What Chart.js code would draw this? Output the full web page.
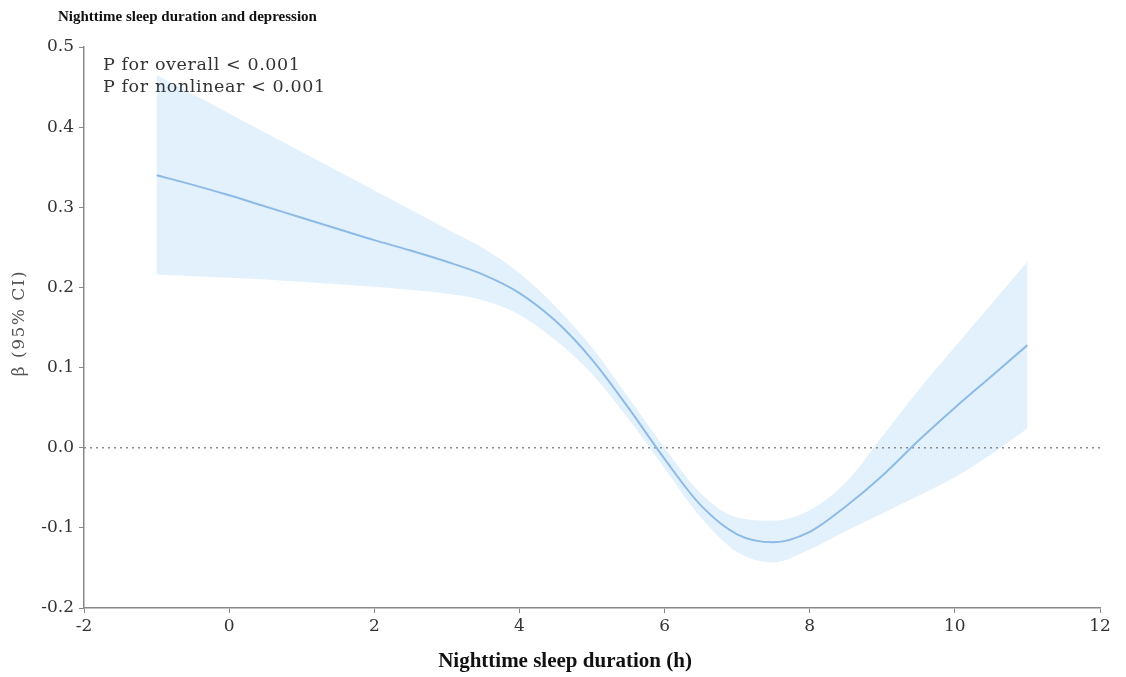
<!DOCTYPE html>
<html>
<head>
<meta charset="utf-8">
<script src="https://cdn.jsdelivr.net/npm/chart.js@4.4.1/dist/chart.umd.min.js"></script>
<style>
  html, body { margin: 0; padding: 0; background: #fff; }
  #wrap { width: 1126px; height: 677px; }
</style>
</head>
<body>
<div id="wrap"><canvas id="rcsChart"></canvas></div>
<script>
// sleep hours and the fitted beta with its 95% CI
const sleepHours = [-1, -0.5, 0, 0.5, 1, 1.5, 2, 2.5, 3, 3.5, 4, 4.5, 5, 5.5, 6, 6.5, 7, 7.5, 8, 8.5, 9, 9.5, 10, 10.5, 11];
const beta = [0.340, 0.328, 0.315, 0.301, 0.287, 0.273, 0.259, 0.246, 0.232, 0.216, 0.193, 0.158, 0.110, 0.050, -0.014, -0.072, -0.108, -0.118, -0.105, -0.073, -0.035, 0.009, 0.050, 0.089, 0.128];
const upperCI = [0.465, 0.441, 0.417, 0.393, 0.369, 0.345, 0.321, 0.297, 0.273, 0.249, 0.218, 0.176, 0.125, 0.063, 0.000, -0.057, -0.087, -0.091, -0.078, -0.043, 0.014, 0.072, 0.126, 0.179, 0.232];
const lowerCI = [0.216, 0.214, 0.212, 0.210, 0.207, 0.204, 0.201, 0.197, 0.192, 0.184, 0.166, 0.134, 0.092, 0.036, -0.026, -0.087, -0.130, -0.143, -0.127, -0.104, -0.082, -0.060, -0.037, -0.008, 0.024];

const xTicks = [-2, 0, 2, 4, 6, 8, 10, 12];
const yTicks = [-0.2, -0.1, 0.0, 0.1, 0.2, 0.3, 0.4, 0.5];

const pText = ["P for overall < 0.001", "P for nonlinear < 0.001"];

const toPts = (ys) => sleepHours.map((x, i) => ({ x: x, y: ys[i] }));

// title, p-values and axis titles drawn on the canvas
const textPlugin = {
  id: "texts",
  afterDraw(chart) {
    const c = chart.ctx;
    const area = chart.chartArea;
    c.save();
    c.fillStyle = "#111";
    c.font = "bold 15px 'Liberation Serif'";
    c.textBaseline = "middle";
    c.textAlign = "left";
    c.fillText("Nighttime sleep duration and depression", 58, 17);

    c.fillStyle = "#333";
    c.font = "17.5px 'DejaVu Serif'";
    c.letterSpacing = "0.6px";
    c.fillText(pText[0], area.left + 19, 65);
    c.fillText(pText[1], area.left + 19, 87);

    // y title
    c.save();
    c.translate(20, 323);
    c.rotate(-Math.PI / 2);
    c.textAlign = "center";
    c.fillStyle = "#555";
    c.font = "17px 'DejaVu Serif'";
    c.letterSpacing = "1.5px";
    c.fillText("β (95% CI)", 0, 0);
    c.restore();

    c.letterSpacing = "0px";
    c.fillStyle = "#111";
    c.font = "bold 21px 'Liberation Serif'";
    c.textAlign = "center";
    c.fillText("Nighttime sleep duration (h)", 565, 662);
    c.restore();
  },
};

new Chart(document.getElementById("rcsChart"), {
  type: "scatter",
  data: {
    datasets: [
      {
        label: "upper",
        data: toPts(upperCI),
        showLine: true,
        borderWidth: 0,
        pointRadius: 0,
        backgroundColor: "rgba(224,240,253,0.9)",
        fill: "+1",
        order: 3,
        cubicInterpolationMode: "monotone",
      },
      {
        label: "lower",
        data: toPts(lowerCI),
        showLine: true,
        borderWidth: 0,
        pointRadius: 0,
        fill: false,
        order: 4,
        cubicInterpolationMode: "monotone",
      },
      {
        label: "zero",
        data: [{ x: xTicks[0], y: 0 }, { x: xTicks[xTicks.length - 1], y: 0 }],
        showLine: true,
        borderColor: "#8a8a8a",
        borderWidth: 1.5,
        borderDash: [2, 4],
        pointRadius: 0,
        fill: false,
        order: 1,
      },
      {
        label: "beta",
        data: toPts(beta),
        showLine: true,
        borderColor: "#8dbbe6",
        borderWidth: 2,
        pointRadius: 0,
        fill: false,
        order: 0,
        cubicInterpolationMode: "monotone",
      },
    ],
  },
  options: {
    responsive: true,
    maintainAspectRatio: false,
    animation: false,
    layout: { padding: { left: 0, top: 47, right: 26, bottom: 0 } },
    plugins: {
      legend: { display: false },
      tooltip: { enabled: false },
      title: { display: false },
    },
    scales: {
      x: {
        type: "linear",
        min: xTicks[0],
        max: xTicks[xTicks.length - 1],
        afterBuildTicks: (s) => { s.ticks = xTicks.map((v) => ({ value: v })); },
        afterFit: (s) => { s.height = 69; },
        grid: { drawOnChartArea: false, drawTicks: true, tickLength: 5, color: "#888" },
        border: { color: "#888", width: 1.5 },
        ticks: {
          color: "#333",
          font: { family: "DejaVu Serif", size: 17 },
          padding: 3,
          maxRotation: 0,
          callback: (v) => String(v),
        },
      },
      y: {
        min: yTicks[0],
        max: yTicks[yTicks.length - 1],
        afterBuildTicks: (s) => { s.ticks = yTicks.map((v) => ({ value: v })); },
        afterFit: (s) => { s.width = 84; },
        grid: { drawOnChartArea: false, drawTicks: true, tickLength: 5, color: "#888" },
        border: { color: "#888", width: 1.5 },
        ticks: {
          color: "#333",
          font: { family: "DejaVu Serif", size: 17 },
          padding: 5,
          callback: (v) => Number(v).toFixed(1),
        },
      },
    },
  },
  plugins: [textPlugin],
});
</script>
</body>
</html>
